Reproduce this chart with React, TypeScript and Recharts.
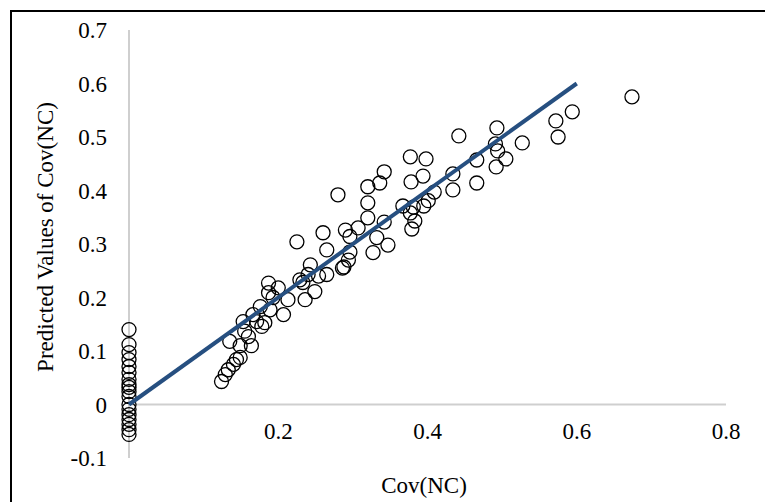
import { ScatterChart, Scatter, XAxis, YAxis, ReferenceLine } from 'recharts'

// observed Cov(NC) == 0, predicted values stacked on the y axis
const zeroCovPredicted = [
  0.14, 0.112, 0.097, 0.084, 0.071, 0.06, 0.047, 0.037, 0.032, 0.024, 0.015, 0, -0.009, -0.019,
  -0.028, -0.037, -0.047, -0.056,
]

const covNC = [
  0.124, 0.129, 0.133, 0.14, 0.144, 0.149, 0.135, 0.149, 0.164, 0.153, 0.155, 0.16, 0.166, 0.171,
  0.178, 0.182, 0.176, 0.189, 0.207, 0.187, 0.2, 0.187, 0.193, 0.213, 0.229, 0.236, 0.24, 0.243,
  0.249, 0.233, 0.225, 0.26, 0.265, 0.28, 0.29, 0.296, 0.296, 0.294, 0.286, 0.288, 0.307, 0.32,
  0.32, 0.32, 0.336, 0.342, 0.332, 0.327, 0.342, 0.347, 0.265, 0.254, 0.442, 0.377, 0.398, 0.378,
  0.394, 0.434, 0.434, 0.466, 0.466, 0.367, 0.377, 0.381, 0.383, 0.379, 0.395, 0.401, 0.409, 0.493,
  0.491, 0.494, 0.505, 0.492, 0.527, 0.572, 0.594, 0.575, 0.674,
]

const predicted = [
  0.043, 0.056, 0.065, 0.075, 0.084, 0.088, 0.118, 0.11, 0.11, 0.155, 0.137, 0.127, 0.168, 0.155,
  0.146, 0.153, 0.183, 0.177, 0.168, 0.227, 0.218, 0.209, 0.2, 0.196, 0.233, 0.196, 0.243, 0.261,
  0.211, 0.228, 0.304, 0.321, 0.289, 0.392, 0.326, 0.314, 0.285, 0.27, 0.255, 0.257, 0.33, 0.349,
  0.377, 0.407, 0.414, 0.435, 0.312, 0.284, 0.341, 0.298, 0.243, 0.24, 0.502, 0.463, 0.459, 0.416,
  0.427, 0.431, 0.401, 0.457, 0.414, 0.371, 0.358, 0.369, 0.343, 0.328, 0.371, 0.381, 0.397, 0.517,
  0.487, 0.474, 0.459, 0.444, 0.489, 0.53, 0.547, 0.5, 0.575,
]

const trendX = [0, 0.6]
const trendY = [0, 0.6]

const xTicks = [0.2, 0.4, 0.6, 0.8]
const yTicks = [-0.1, 0, 0.1, 0.2, 0.3, 0.4, 0.5, 0.6, 0.7]

const points = [
  ...zeroCovPredicted.map((y) => ({ x: 0, y })),
  ...covNC.map((x, i) => ({ x, y: predicted[i] })),
]
const trend = trendX.map((x, i) => ({ x, y: trendY[i] }))

const FONT = '"Liberation Serif", "Times New Roman", serif'

const OpenCircle = (props: any) => (
  <circle cx={props.cx} cy={props.cy} r={7} fill="none" stroke="#000" strokeWidth={1.3} />
)

export default function App() {
  return (
    <div
      style={{
        position: 'absolute',
        left: 0,
        top: 0,
        width: 765,
        height: 502,
        background: '#fff',
        overflow: 'hidden',
        fontFamily: FONT,
      }}
    >
      <div
        style={{
          position: 'absolute',
          left: 10,
          top: 10,
          width: 800,
          height: 600,
          borderTop: '2px solid #000',
          borderLeft: '2px solid #000',
        }}
      />
      <ScatterChart
        width={765}
        height={502}
        margin={{ top: 30, right: 39, left: 69, bottom: 14 }}
        style={{ position: 'absolute', left: 0, top: 0 }}
      >
        <XAxis
          type="number"
          dataKey="x"
          domain={[0, 0.8]}
          ticks={xTicks}
          height={30}
          axisLine={false}
          tickLine={false}
          tickSize={0}
          tickMargin={0}
          tick={{ fontSize: 23, fill: '#000', fontFamily: FONT, dy: -35 }}
        />
        <YAxis
          type="number"
          dataKey="y"
          domain={[-0.1, 0.7]}
          ticks={yTicks}
          width={60}
          axisLine={{ stroke: '#cfcfcf', strokeWidth: 2 }}
          tickLine={false}
          tickSize={0}
          tickMargin={22}
          tick={{ fontSize: 23, fill: '#000', fontFamily: FONT }}
        />
        <ReferenceLine y={0} stroke="#cfcfcf" strokeWidth={2} />
        <Scatter data={points} shape={OpenCircle} isAnimationActive={false} />
        <Scatter
          data={trend}
          line={{ stroke: '#264f80', strokeWidth: 4 }}
          shape={() => null}
          isAnimationActive={false}
        />
      </ScatterChart>
      <div
        style={{
          position: 'absolute',
          left: 45,
          top: 237,
          transform: 'translate(-50%, -50%) rotate(-90deg)',
          whiteSpace: 'nowrap',
          fontSize: 23,
          lineHeight: 1,
        }}
      >
        Predicted Values of Cov(NC)
      </div>
      <div
        style={{
          position: 'absolute',
          left: 424,
          top: 485,
          transform: 'translate(-50%, -50%)',
          whiteSpace: 'nowrap',
          fontSize: 23,
          lineHeight: 1,
        }}
      >
        Cov(NC)
      </div>
    </div>
  )
}
